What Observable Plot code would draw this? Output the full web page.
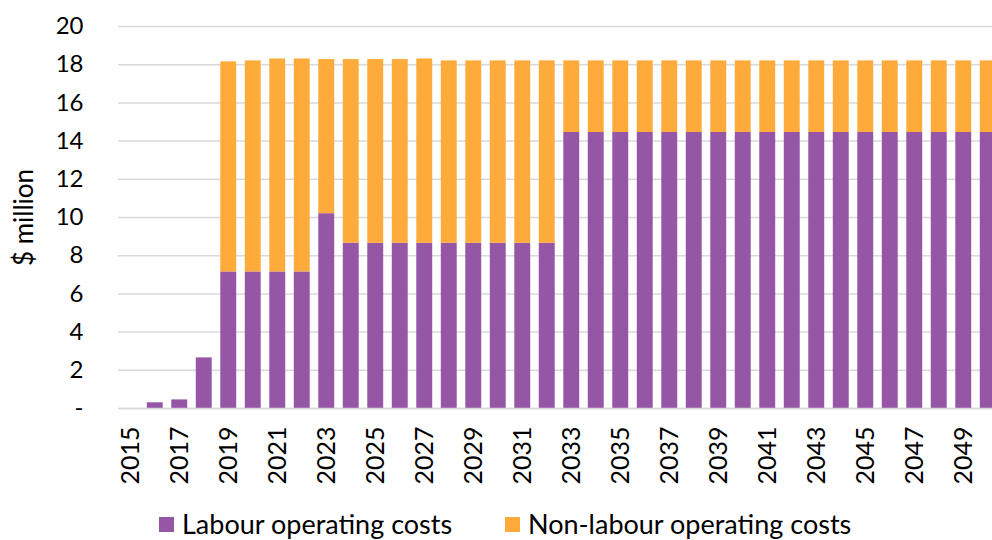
<!DOCTYPE html>
<html>
<head>
<meta charset="utf-8">
<script src="https://cdn.jsdelivr.net/npm/d3@7"></script>
<script src="https://cdn.jsdelivr.net/npm/@observablehq/plot@0.6"></script>
<style>
  html, body { margin: 0; padding: 0; background: #fff; overflow: hidden; width: 992px; height: 540px; }
  #chart { width: 992px; height: 495px; overflow: hidden; }
  #chart svg { max-width: none !important; width: 1000px !important; height: 495px !important; }
  .legend { position: absolute; top: 509px; left: 0; font-family: Lato, "Open Sans", sans-serif; font-size: 27px; line-height: 30px; color: #000; }
  .item { position: absolute; white-space: nowrap; display: flex; align-items: center; }
  .sw { display: inline-block; width: 15px; height: 15px; margin-right: 8px; }
</style>
</head>
<body>
<div id="chart"></div>
<div class="legend">
  <div class="item" style="left:159px"><span class="sw" style="background:#9656A6"></span><span>Labour operating costs</span></div>
  <div class="item" style="left:505px"><span class="sw" style="background:#FFAB3B"></span><span>Non-labour operating costs</span></div>
</div>
<script>
const years = [2015,2016,2017,2018,2019,2020,2021,2022,2023,2024,2025,2026,2027,2028,2029,2030,2031,2032,
               2033,2034,2035,2036,2037,2038,2039,2040,2041,2042,2043,2044,2045,2046,2047,2048,2049,2050];
const labour = [0,0.3,0.45,2.65,7.15,7.15,7.15,7.15,10.2,8.65,8.65,8.65,8.65,8.65,8.65,8.65,8.65,8.65,
                14.45,14.45,14.45,14.45,14.45,14.45,14.45,14.45,14.45,14.45,14.45,14.45,14.45,14.45,14.45,14.45,14.45,14.45];
const nonLabour = [0,0,0,0,11.0,11.05,11.15,11.15,8.07,9.62,9.62,9.62,9.65,9.55,9.55,9.55,9.55,9.55,
                3.75,3.75,3.75,3.75,3.75,3.75,3.75,3.75,3.75,3.75,3.75,3.75,3.75,3.75,3.75,3.75,3.75,3.75];
const seriesNames = ["Labour operating costs", "Non-labour operating costs"];
const seriesColors = ["#9656A6", "#FFAB3B"];
const yTicks = [0,2,4,6,8,10,12,14,16,18,20];
const xTicks = years.filter((y, i) => i % 2 === 0);

const rows = [];
years.forEach((yr, i) => {
  rows.push({year: yr, series: seriesNames[0], value: labour[i]});
  rows.push({year: yr, series: seriesNames[1], value: nonLabour[i]});
});

const chart = Plot.plot({
  width: 1000,
  height: 495,
  marginLeft: 118,
  marginRight: 0,
  marginTop: 26,
  marginBottom: 87,
  style: {fontFamily: "Lato, 'Open Sans', sans-serif", fontSize: "24px", color: "#000", background: "#fff"},
  x: {type: "band", domain: years, paddingInner: 0.35, paddingOuter: 0.175, round: false},
  y: {domain: [0, 20]},
  color: {domain: seriesNames, range: seriesColors},
  marks: [
    Plot.gridY(yTicks, {stroke: "#d9d9d9", strokeOpacity: 1, strokeWidth: 1.5}),
    Plot.barY(rows, {x: "year", y: "value", fill: "series", order: seriesNames}),
    Plot.ruleY([0], {stroke: "#d9d9d9", strokeWidth: 1.5}),
    Plot.axisY(yTicks, {tickSize: 0, tickPadding: 35, tickFormat: d => d === 0 ? "-" : String(d), label: null, fontSize: 24}),
    Plot.axisY({label: "$ million", labelAnchor: "center", labelArrow: "none", labelOffset: 104, fontSize: 26, ticks: [], tickSize: 0}),
    Plot.axisX(xTicks, {tickSize: 0, tickPadding: 18, tickRotate: -90, tickFormat: d => String(d), label: null, fontSize: 25})
  ]
});
document.getElementById("chart").appendChild(chart);
</script>
</body>
</html>
